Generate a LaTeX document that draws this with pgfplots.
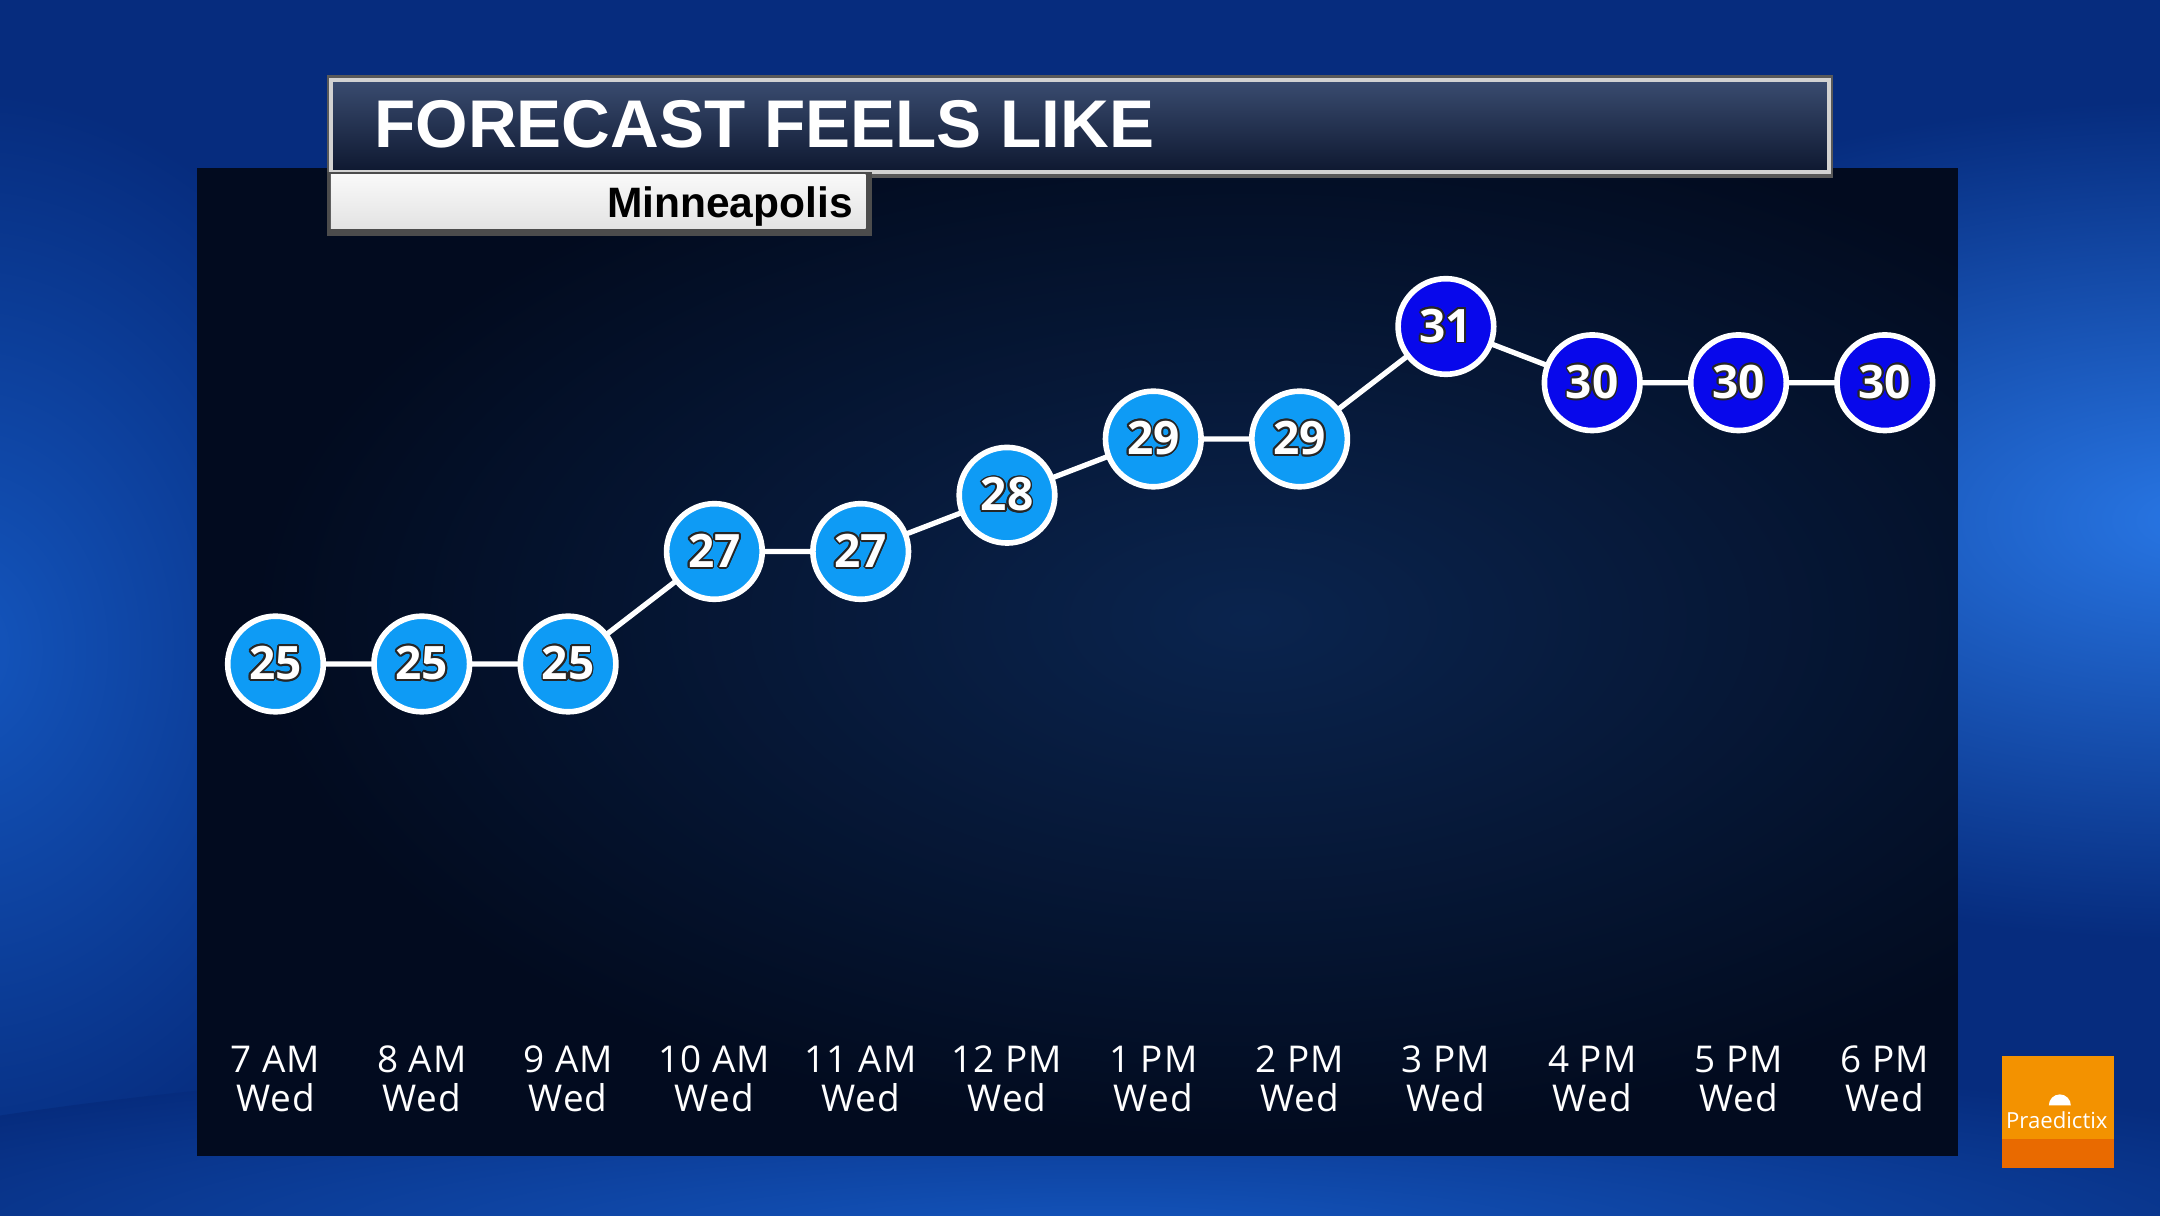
\documentclass[border=0pt]{standalone}
\usepackage{fontspec}
\usepackage{pgfplots}
\pgfplotsset{compat=1.18}
\usepackage[copies]{contour}
\setmainfont{Open Sans}
\newfontfamily\arialfont{Liberation Sans}
\newfontfamily\labelfont{Open Sans}[LetterSpace=3]
\contourlength{0.5pt}

\definecolor{bgbase}{RGB}{6,44,126}
\definecolor{bgbright}{RGB}{40,118,228}
\definecolor{bgmid}{RGB}{20,86,190}
\definecolor{panel}{RGB}{2,11,31}
\definecolor{panelglow}{RGB}{10,36,78}
\definecolor{ptlight}{RGB}{14,155,245}
\definecolor{ptdark}{RGB}{8,8,235}
\definecolor{titletop}{RGB}{58,76,112}
\definecolor{titlebot}{RGB}{14,24,48}
\definecolor{logotop}{RGB}{243,146,0}
\definecolor{logobot}{RGB}{233,106,0}

\begin{document}
\begin{tikzpicture}
\useasboundingbox (0,0) rectangle (21.6cm,-12.15cm);
\begin{scope}[x=0.01cm,y=-0.01cm]
  % backdrop
  \fill[bgbase] (-30,-30) rectangle (2190,1245);
  \shade[inner color=bgbright, outer color=bgbase] (2200,520) ellipse (850 and 420);
  \shade[inner color=bgmid, outer color=bgbase] (-40,650) ellipse (460 and 560);
  \shade[inner color=bgmid, outer color=bgbase] (1100,1240) ellipse (1450 and 190);
  % dark panel
  \fill[panel] (197,168) rectangle (1959,1157);
  \begin{scope}
    \clip (197,168) rectangle (1959,1157);
    \shade[inner color=panelglow, outer color=panel] (1250,620) ellipse (1000 and 520);
  \end{scope}
  % title bar
  \fill[gray!70!black] (327,75) rectangle (1834,178);
  \shade[top color=titletop, bottom color=titlebot, draw=gray!35, line width=0.045cm]
    (331,80) rectangle (1830,172);
  \node[anchor=base west, inner sep=0pt, text=white, font=\arialfont\bfseries\fontsize{19.2}{22}\selectfont]
    at (374,148) {FORECAST FEELS LIKE};
  % subtitle box
  \fill[gray!60!black] (327,172) rectangle (872,236);
  \shade[top color=gray!5, bottom color=gray!22] (331,175) rectangle (866,229);
  \node[anchor=base east, inner sep=0pt, text=black, font=\arialfont\bfseries\fontsize{12.1}{14}\selectfont]
    at (854,218) {Minneapolis};
  % logo
  \fill[logotop] (2003,1057) rectangle (2115,1140);
  \fill[logobot] (2003,1140) rectangle (2115,1169);
  \fill[white] (2050,1106) arc (180:360:11) -- cycle;
  \node[anchor=base, inner sep=0pt, text=white, font=\fontsize{6.3}{7}\selectfont]
    at (2058,1129) {Praedictix};
\end{scope}

\begin{axis}[
  at={(0,-12.15cm)}, anchor=south west,
  scale only axis, width=21.6cm, height=12.15cm,
  xmin=-1.883, xmax=12.881, ymin=15.204, ymax=36.804,
  axis line style={draw=none},
  clip=false,
  ytick=\empty,
  xtick={0,...,11},
  major tick length=0pt,
  xticklabels={{7 AM\\Wed},{8 AM\\Wed},{9 AM\\Wed},{10 AM\\Wed},{11 AM\\Wed},{12 PM\\Wed},
    {1 PM\\Wed},{2 PM\\Wed},{3 PM\\Wed},{4 PM\\Wed},{5 PM\\Wed},{6 PM\\Wed}},
  x tick label style={text=white, align=center, anchor=north, inner sep=0pt, yshift=1.70cm,
    font=\labelfont\fontsize{10.5}{11.1}\selectfont},
  nodes near coords={\contour{black!85}{\pgfmathprintnumber[assume math mode=true]{\pgfplotspointmeta}}},
  every node near coord/.append style={anchor=center, text=white, inner sep=0pt,
    font=\bfseries\fontsize{13.1}{15}\selectfont},
]
\addplot[white, line width=1.5pt, no marks, nodes near coords={}] coordinates {
  (0,25) (1,25) (2,25) (3,27) (4,27) (5,28) (6,29) (7,29) (8,31) (9,30) (10,30) (11,30)};
\addplot[only marks, mark=*, mark size=13.6pt,
  mark options={fill=ptlight, draw=white, line width=1.6pt}] coordinates {
  (0,25) (1,25) (2,25) (3,27) (4,27) (5,28) (6,29) (7,29)};
\addplot[only marks, mark=*, mark size=13.6pt,
  mark options={fill=ptdark, draw=white, line width=1.6pt}] coordinates {
  (8,31) (9,30) (10,30) (11,30)};
\end{axis}
\end{tikzpicture}
\end{document}
